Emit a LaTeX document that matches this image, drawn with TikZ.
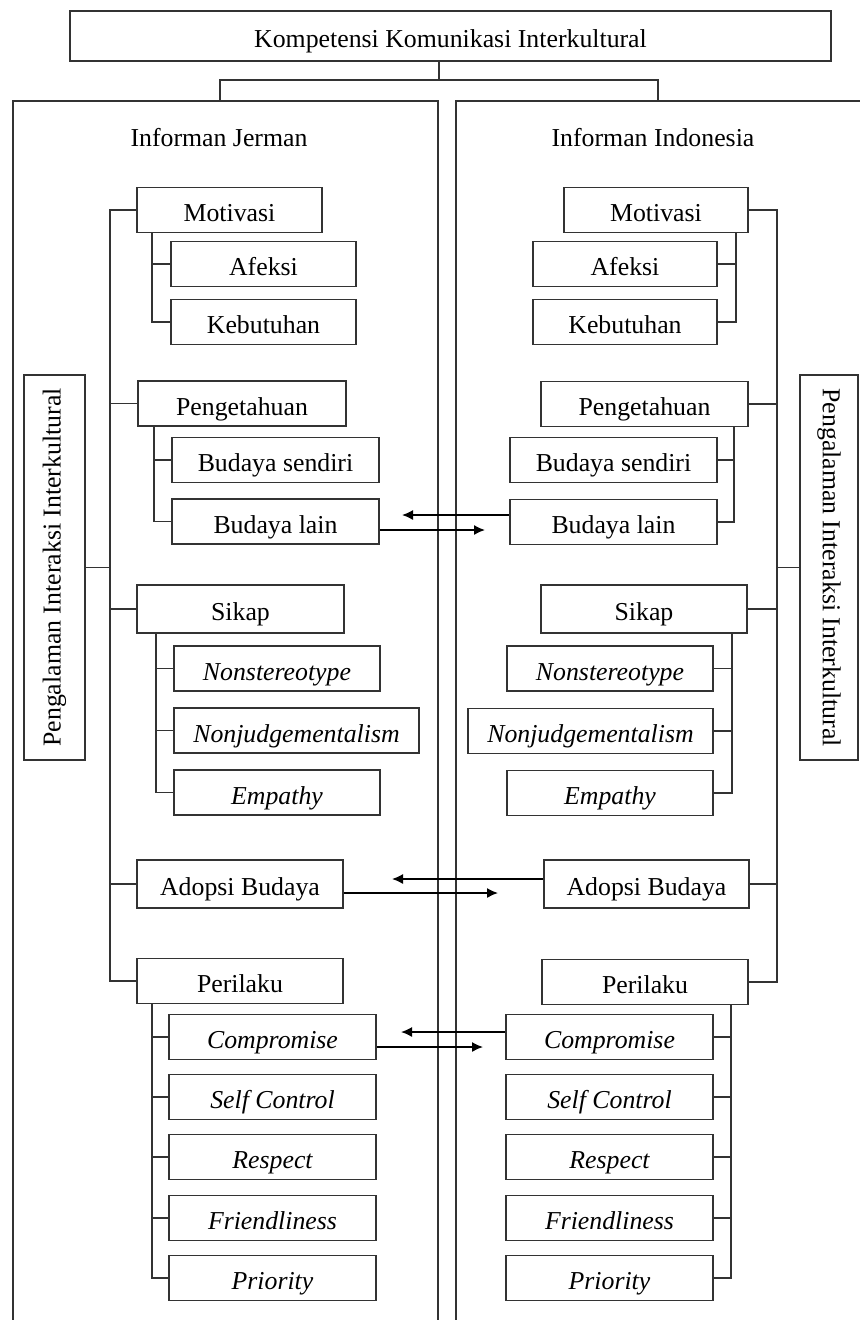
\documentclass[tikz,border=0pt]{standalone}
\usepackage{fontspec}
\setmainfont{Liberation Serif}
\usepackage{tikz}
\usetikzlibrary{arrows.meta}

\begin{document}
\begin{tikzpicture}[x=1pt, y=-1pt, >={Latex[length=11pt, width=10pt]},
  kotak/.style={draw=black!80, line width=1.6pt, rectangle, minimum height=45pt, inner sep=0pt, text height=23pt, text depth=0pt, font=\fontsize{25.8}{31}\selectfont},
  miring/.style={kotak, font=\fontsize{25.8}{31}\selectfont\itshape},
  teks/.style={inner sep=0pt, font=\fontsize{25.8}{31}\selectfont},
  garis/.style={draw=black!80, line width=1.6pt},
  panah/.style={->, black, line width=1.5pt}]

\useasboundingbox (0,0) rectangle (860,1320);

% Title and panels
\node[kotak, minimum width=761pt, minimum height=50pt] (judul) at (450.5,36) {Kompetensi Komunikasi Interkultural};

\draw[garis] (13,1320) -- (13,101) -- (438,101) -- (438,1320);
\draw[garis] (456,1320) -- (456,101) -- (860,101);

\coordinate (cab) at (439,80);
\coordinate (pJ) at (220,101);
\coordinate (pI) at (658,101);
\draw[garis] (judul.south -| cab) -- (cab);
\draw[garis] (pJ) |- (cab) -| (pI);

\node[teks] (infJ) at (219,138) {Informan Jerman};
\node[teks] (infI) at (653,138) {Informan Indonesia};

% Left side (Jerman)
\node[kotak, minimum width=185pt] (motJ) at (229.5,210) {Motivasi};
\node[kotak, minimum width=185pt] (afeJ) at (263.5,264) {Afeksi};
\node[kotak, minimum width=185pt] (kebJ) at (263.5,322) {Kebutuhan};

\node[kotak, minimum width=208pt] (pengJ) at (242,403.5) {Pengetahuan};
\node[kotak, minimum width=207pt] (sendJ) at (275.5,460) {Budaya sendiri};
\node[kotak, minimum width=207pt] (lainJ) at (275.5,521.5) {Budaya lain};

\node[kotak, minimum width=207pt, minimum height=48pt] (sikJ) at (240.5,609) {Sikap};
\node[miring, minimum width=206pt] (nsJ) at (277,668.5) {Nonstereotype};
\node[miring, minimum width=245pt] (njJ) at (296.5,730.5) {Nonjudgementalism};
\node[miring, minimum width=206pt] (empJ) at (277,792.5) {Empathy};

\node[kotak, minimum width=206pt, minimum height=48pt] (adoJ) at (240,884) {Adopsi Budaya};

\node[kotak, minimum width=206pt] (perJ) at (240,981) {Perilaku};
\node[miring, minimum width=207pt] (comJ) at (272.5,1037) {Compromise};
\node[miring, minimum width=207pt] (selJ) at (272.5,1097) {Self Control};
\node[miring, minimum width=207pt] (resJ) at (272.5,1157) {Respect};
\node[miring, minimum width=207pt] (friJ) at (272.5,1218) {Friendliness};
\node[miring, minimum width=207pt] (priJ) at (272.5,1278) {Priority};

\node[kotak, text height=, text depth=, minimum width=61pt, minimum height=385pt] (labJ) at (54.5,567.5) {\rotatebox{90}{Pengalaman Interaksi Interkultural}};

% Right side (Indonesia)
\node[kotak, minimum width=184pt] (motI) at (656,210) {Motivasi};
\node[kotak, minimum width=184pt] (afeI) at (625,264) {Afeksi};
\node[kotak, minimum width=184pt] (kebI) at (625,322) {Kebutuhan};

\node[kotak, minimum width=207pt] (pengI) at (644.5,404) {Pengetahuan};
\node[kotak, minimum width=207pt] (sendI) at (613.5,460) {Budaya sendiri};
\node[kotak, minimum width=207pt] (lainI) at (613.5,522) {Budaya lain};

\node[kotak, minimum width=206pt, minimum height=48pt] (sikI) at (644,609) {Sikap};
\node[miring, minimum width=206pt] (nsI) at (610,668.5) {Nonstereotype};
\node[miring, minimum width=245pt] (njI) at (590.5,731) {Nonjudgementalism};
\node[miring, minimum width=206pt] (empI) at (610,793) {Empathy};

\node[kotak, minimum width=205pt, minimum height=48pt] (adoI) at (646.5,884) {Adopsi Budaya};

\node[kotak, minimum width=206pt] (perI) at (645,982) {Perilaku};
\node[miring, minimum width=207pt] (comI) at (609.5,1037) {Compromise};
\node[miring, minimum width=207pt] (selI) at (609.5,1097) {Self Control};
\node[miring, minimum width=207pt] (resI) at (609.5,1157) {Respect};
\node[miring, minimum width=207pt] (friI) at (609.5,1218) {Friendliness};
\node[miring, minimum width=207pt] (priI) at (609.5,1278) {Priority};

\node[kotak, text height=, text depth=, minimum width=58pt, minimum height=385pt] (labI) at (829,567.5) {\rotatebox{-90}{Pengalaman Interaksi Interkultural}};

% Main spines
\coordinate (sJ) at (110,0);
\coordinate (sI) at (777,0);
\draw[garis] (motJ.west) -| (sJ |- perJ.west) -- (perJ.west);
\draw[garis] (pengJ.west -| sJ) -- (pengJ.west);
\draw[garis] (sikJ.west -| sJ) -- (sikJ.west);
\draw[garis] (adoJ.west -| sJ) -- (adoJ.west);
\draw[garis] (labJ.east) -- (labJ.east -| sJ);

\draw[garis] (motI.east) -| (sI |- perI.east) -- (perI.east);
\draw[garis] (pengI.east -| sI) -- (pengI.east);
\draw[garis] (sikI.east -| sI) -- (sikI.east);
\draw[garis] (adoI.east -| sI) -- (adoI.east);
\draw[garis] (labI.west) -- (labI.west -| sI);

% Sub-branches, left
\draw[garis] ([xshift=16pt]motJ.south west) |- (afeJ.west);
\draw[garis] ([xshift=16pt]motJ.south west) |- (kebJ.west);
\draw[garis] ([xshift=17pt]pengJ.south west) |- (sendJ.west);
\draw[garis] ([xshift=17pt]pengJ.south west) |- (lainJ.west);
\draw[garis] ([xshift=20pt]sikJ.south west) |- (nsJ.west);
\draw[garis] ([xshift=20pt]sikJ.south west) |- (njJ.west);
\draw[garis] ([xshift=20pt]sikJ.south west) |- (empJ.west);
\draw[garis] ([xshift=16pt]perJ.south west) |- (comJ.west);
\draw[garis] ([xshift=16pt]perJ.south west) |- (selJ.west);
\draw[garis] ([xshift=16pt]perJ.south west) |- (resJ.west);
\draw[garis] ([xshift=16pt]perJ.south west) |- (friJ.west);
\draw[garis] ([xshift=16pt]perJ.south west) |- (priJ.west);

% Sub-branches, right
\draw[garis] ([xshift=-13pt]motI.south east) |- (afeI.east);
\draw[garis] ([xshift=-13pt]motI.south east) |- (kebI.east);
\draw[garis] ([xshift=-15pt]pengI.south east) |- (sendI.east);
\draw[garis] ([xshift=-15pt]pengI.south east) |- (lainI.east);
\draw[garis] ([xshift=-16pt]sikI.south east) |- (nsI.east);
\draw[garis] ([xshift=-16pt]sikI.south east) |- (njI.east);
\draw[garis] ([xshift=-16pt]sikI.south east) |- (empI.east);
\draw[garis] ([xshift=-18pt]perI.south east) |- (comI.east);
\draw[garis] ([xshift=-18pt]perI.south east) |- (selI.east);
\draw[garis] ([xshift=-18pt]perI.south east) |- (resI.east);
\draw[garis] ([xshift=-18pt]perI.south east) |- (friI.east);
\draw[garis] ([xshift=-18pt]perI.south east) |- (priI.east);

% Exchange arrows between the two sides
\coordinate (t1) at (402,515);
\coordinate (t2) at (485,530);
\coordinate (t3) at (392,879);
\coordinate (t4) at (498,893);
\coordinate (t5) at (401,1032);
\coordinate (t6) at (483,1047);
\draw[panah] (lainI.west |- t1) -- (t1);
\draw[panah] (lainJ.east |- t2) -- (t2);
\draw[panah] (adoI.west |- t3) -- (t3);
\draw[panah] (adoJ.east |- t4) -- (t4);
\draw[panah] (comI.west |- t5) -- (t5);
\draw[panah] (comJ.east |- t6) -- (t6);

\end{tikzpicture}
\end{document}
